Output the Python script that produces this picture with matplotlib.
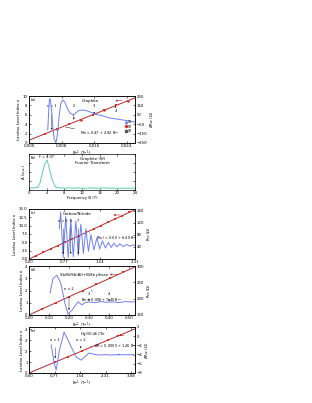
import matplotlib.pyplot as plt

# ---- data ----
# (a) Graphite
a_binv = [0.0046, 0.0048, 0.0050, 0.0052, 0.0055, 0.0058, 0.0062, 0.0066, 0.0070, 0.0074,
          0.0078, 0.0083, 0.0088, 0.0094, 0.0100, 0.0108, 0.0115, 0.0122, 0.0130, 0.0140,
          0.0150, 0.0162, 0.0180, 0.0198, 0.0215, 0.0235, 0.0260]
a_dr = [-110, 60, 215, 220, 120, -60, -210, -250, -150, 40,
        170, 207, 185, 120, 70, 48, 70, 95, 101, 95,
        80, 58, 40, 16, 5, -8, -27]
a_mark_x = [0.0040, 0.0069, 0.0098, 0.0127, 0.0156, 0.0185, 0.0214, 0.0243]
a_mark_n = [2, 3, 4, 5, 6, 7, 8, 9]
a_fit_x = [0.0, 0.026]
a_fit_n = [0.6, 9.6]

# (b) Fourier transform
b_freq = [0, 1, 2, 2.5, 3, 3.5, 4.07, 4.6, 5.2, 6, 7, 8, 9, 10, 11, 12, 13, 14, 15, 16,
          17, 18, 19, 20, 21, 22, 23, 24]
b_amp = [0.05, 0.06, 0.07, 0.2, 0.45, 0.7, 0.84, 0.6, 0.3, 0.08, 0.06, 0.05, 0.06, 0.05,
         0.06, 0.05, 0.05, 0.06, 0.05, 0.05, 0.06, 0.05, 0.05, 0.05, 0.05, 0.05, 0.05, 0.05]

# (c) Carbon/Nitride
c_binv = [0.66, 0.69, 0.745, 0.80, 0.855, 0.91, 0.965, 1.02, 1.075, 1.13, 1.185, 1.24,
          1.295, 1.35, 1.415, 1.48, 1.54, 1.60, 1.665, 1.73, 1.79, 1.85, 1.915, 1.98,
          2.055, 2.13, 2.20, 2.27, 2.31]
c_r = [100, 155, 5, 140, 5, 130, 8, 125, 12, 115, 18, 100,
       25, 80, 30, 70, 33, 60, 36, 55, 38, 52, 40, 50,
       41, 48, 42, 47, 44]
c_mark_n = [1, 2, 3, 4, 5, 6, 7, 8, 9, 10, 11, 12, 13, 14]
c_mark_x = [0.156, 0.313, 0.469, 0.625, 0.781, 0.938, 1.094, 1.25, 1.406, 1.563,
            1.719, 1.875, 2.031, 2.188]
c_fit_x = [0.0, 2.31]
c_fit_n = [0.0, 14.8]

# (d) Sb/Bi/Sb(Al) + BiSb
d_binv = [0.105, 0.12, 0.14, 0.16, 0.18, 0.195, 0.215, 0.245, 0.265, 0.28, 0.30,
          0.33, 0.36, 0.39, 0.42, 0.45, 0.48, 0.51, 0.53]
d_r = [217, 262, 272, 245, 185, 153, 165, 190, 181, 188, 190,
       188, 191, 189, 190, 188, 191, 190, 190]
d_mark_n = [0.5, 1, 1.5, 2, 2.5, 3, 3.5]
d_mark_x = [0.067, 0.134, 0.202, 0.270, 0.337, 0.405, 0.472]
d_fit_x = [0.0, 0.53]
d_fit_n = [0.006, 3.93]

# (e) HgCdTe
e_binv = [0.67, 0.75, 0.82, 0.92, 1.06, 1.22, 1.42, 1.57, 1.70, 1.81, 1.95, 2.08,
          2.3, 2.5, 2.7, 2.9, 3.16]
e_dr = [-1.9, -5.5, -7.35, -3.0, 0.9, -1.5, -4.5, -5.2, -4.4, -3.65, -3.9, -4.1,
        -4.0, -4.1, -4.0, -4.05, -4.0]
e_mark_n = [1, 1.5, 2, 3, 3.5]
e_mark_x = [0.79, 1.19, 1.59, 2.38, 2.78]
e_fit_x = [0.0, 3.2]
e_fit_n = [0.0005, 4.03]

BLUE = '#6f7ff5'
RED = '#b02a2a'
MRED = '#e03020'
GREEN = '#5ccfa5'
FS = 2.8

plt.rcParams['font.size'] = FS
plt.rcParams['axes.linewidth'] = 0.5
for k in ['xtick', 'ytick']:
    plt.rcParams[k + '.direction'] = 'in'
    plt.rcParams[k + '.major.size'] = 1.5
    plt.rcParams[k + '.major.width'] = 0.4
    plt.rcParams[k + '.major.pad'] = 1
    plt.rcParams[k + '.labelsize'] = FS

fig = plt.figure(figsize=(3.12, 4.03), dpi=100)

W, H = 312.0, 403.0


def rect(top, bottom):
    return [29 / W, 1 - bottom / H, 106 / W, (bottom - top) / H]


def fan(r, label, title, tx, ty, fx, fn, mx, mn, bx, by, xlim, nlim, rlim, xt, rt, rlab):
    ax = fig.add_axes(r)
    ax2 = ax.twinx()
    ax.plot(fx, fn, color=RED, lw=0.7, zorder=2)
    ax.plot(mx, mn, 's', color=MRED, ms=1.7, mew=0, zorder=3)
    ax2.plot(bx, by, color=BLUE, lw=0.7)
    ax.set_xlim(xlim)
    ax.set_ylim(nlim)
    ax2.set_ylim(rlim)
    ax.set_xticks(xt)
    ax2.set_yticks(rt)
    ax.tick_params(top=True)
    ax.set_xlabel('B$^{-1}$ (T$^{-1}$)', labelpad=0.3)
    ax.set_ylabel('Landau Level Index n', labelpad=1)
    ax2.set_ylabel(rlab, labelpad=1)
    ax.text(0.02, 0.95, label, transform=ax.transAxes, va='top')
    ax.text(tx, ty, title, transform=ax.transAxes, va='top', ha='center')
    return ax, ax2


# (a)
ax, ax2 = fan(rect(96, 143), '(a)', 'Graphite', 0.58, 0.94, a_fit_x, a_fit_n, a_mark_x,
              a_mark_n, a_binv, a_dr, (0, 0.026), (0, 10), (-250, 250),
              [0, 0.008, 0.016, 0.024], [-250, -150, -50, 50, 150, 250], 'ΔR$_{xx}$ (Ω)')
ax.xaxis.set_major_formatter(plt.FormatStrFormatter('%.3f'))
ax.plot(a_mark_x[1::2], a_mark_n[1::2], 'o', color=MRED, ms=1.8, mew=0, zorder=4)
ax2.plot([], [], '^', color=BLUE, ms=1.5, label='S1')
ax2.plot([], [], 'o', color=MRED, ms=1.5, label='S2')
ax2.plot([], [], 's', color='#555555', ms=1.5, label='S3')
ax2.legend(loc='center right', bbox_to_anchor=(1.0, 0.35), frameon=False, fontsize=2.3,
           handlelength=0.8, handletextpad=0.3, labelspacing=0.2)
for x0, y0, yt, s in [(0.0056, 2.2, 7.6, 'n = 1'), (0.0110, 4.4, 7.6, '2'),
                      (0.0160, 6.2, 7.6, '3'), (0.0212, 7.9, 6.6, '4')]:
    ax.annotate(s, xy=(x0, y0), xytext=(x0, yt), ha='center', fontsize=2.5,
                arrowprops=dict(arrowstyle='-|>', lw=0.3, color='k', mutation_scale=2))
ax.annotate('Mn = 0.47 + 4.92 B$^{-1}$', xy=(0.0083, 3.5), xytext=(0.0125, 1.6),
            fontsize=2.5, arrowprops=dict(arrowstyle='-', lw=0.3, color='k'))
ax.annotate('', xy=(0.0205, 9.0), xytext=(0.0235, 9.0),
            arrowprops=dict(arrowstyle='-|>', lw=0.4, color=RED, mutation_scale=2.5))

# (b)
axb = fig.add_axes(rect(154, 190))
axb.plot(b_freq, b_amp, color=GREEN, lw=0.7)
axb.set_xlim(0, 24)
axb.set_ylim(0, 1)
axb.set_xticks([0, 4, 8, 12, 16, 20, 24])
axb.set_yticks([0, 0.25, 0.5, 0.75, 1.0])
axb.set_yticklabels([])
axb.tick_params(top=True, right=True)
axb.set_xlabel('Frequency B (T)', labelpad=0.3)
axb.set_ylabel('A (a.u.)', labelpad=1)
axb.text(0.02, 0.95, '(b)', transform=axb.transAxes, va='top')
axb.text(4.07, 0.87, 'F = 4.07', ha='center', va='bottom', fontsize=2.5)
axb.text(0.6, 0.92, 'Graphite (Sf)\nFourier Transform', transform=axb.transAxes,
         va='top', ha='center', linespacing=1.1)

# (c)
ax, ax2 = fan(rect(209, 259), '(c)', 'Carbon/Nitride', 0.45, 0.94, c_fit_x, c_fit_n,
              c_mark_x, c_mark_n, c_binv, c_r, (0, 2.31), (0, 15), (0, 165),
              [0, 0.77, 1.54, 2.31], [40, 80, 120, 160], 'R$_{xx}$ (Ω)')
ax.xaxis.set_major_formatter(plt.FormatStrFormatter('%.2f'))
for x0, s in [(0.745, 'n = 5'), (0.91, '6'), (1.075, '7')]:
    ax2.annotate(s, xy=(x0, 8), xytext=(x0, 122), ha='center', fontsize=2.5,
                 arrowprops=dict(arrowstyle='-|>', lw=0.3, color='k', mutation_scale=2))
ax.annotate('R(n) = 0.00 + 6.40 B$^{-1}$', xy=(1.25, 8.0), xytext=(1.45, 5.6),
            fontsize=2.5, arrowprops=dict(arrowstyle='-', lw=0.3, color='k'))
ax.annotate('', xy=(1.78, 13.2), xytext=(2.05, 13.2),
            arrowprops=dict(arrowstyle='-|>', lw=0.4, color=RED, mutation_scale=2.5))

# (d)
ax, ax2 = fan(rect(266, 315), '(d)', 'Sb/Bi/Sb(Al)+BiSb phase', 0.52, 0.85, d_fit_x,
              d_fit_n, d_mark_x, d_mark_n, d_binv, d_r, (0, 0.53), (0, 4), (150, 300),
              [0, 0.1, 0.2, 0.3, 0.4, 0.5], [150, 200, 250, 300], 'R$_{xx}$ (Ω)')
ax.xaxis.set_major_formatter(plt.FormatStrFormatter('%.2f'))
for x0, yt, yb, s in [(0.20, 225, 157, 'n = 2'), (0.30, 212, 193, '3'), (0.40, 210, 192, '4')]:
    ax2.annotate(s, xy=(x0, yb), xytext=(x0, yt), ha='center', fontsize=2.5,
                 arrowprops=dict(arrowstyle='-|>', lw=0.3, color='k', mutation_scale=2))
ax.annotate('Bn = 0.006 + 7.40 B$^{-1}$', xy=(0.30, 2.2), xytext=(0.26, 1.1),
            fontsize=2.5, arrowprops=dict(arrowstyle='-', lw=0.3, color='k'))
ax.annotate('', xy=(0.39, 3.3), xytext=(0.46, 3.3),
            arrowprops=dict(arrowstyle='-|>', lw=0.4, color=RED, mutation_scale=2.5))

# (e)
ax, ax2 = fan(rect(327, 373), '(e)', 'Hg$_{0.8}$Cd$_{0.2}$Te', 0.6, 0.94, e_fit_x, e_fit_n,
              e_mark_x, e_mark_n, e_binv, e_dr, (0, 3.2), (0, 4.2), (-8, 2),
              [0, 0.77, 1.54, 2.31, 3.08], [-8, -6, -4, -2, 0, 2], 'ΔR$_{xx}$ (Ω)')
ax.xaxis.set_major_formatter(plt.FormatStrFormatter('%.2f'))
for x0, yb, s in [(0.79, 1.1, 'n = 1'), (1.56, 2.0, 'n = 2')]:
    ax.annotate(s, xy=(x0, yb), xytext=(x0, 2.9), ha='center', fontsize=2.5,
                arrowprops=dict(arrowstyle='-|>', lw=0.3, color='k', mutation_scale=2))
ax.annotate('ΔR = 0.0005 + 1.26 B$^{-1}$', xy=(1.85, 2.4), xytext=(1.95, 2.25),
            fontsize=2.5, arrowprops=dict(arrowstyle='-', lw=0.3, color='k'))
ax.annotate('', xy=(2.55, 3.4), xytext=(2.95, 3.4),
            arrowprops=dict(arrowstyle='-|>', lw=0.4, color=RED, mutation_scale=2.5))
ax2.annotate('', xy=(2.85, -4.0), xytext=(2.55, -4.0),
             arrowprops=dict(arrowstyle='-|>', lw=0.4, color=BLUE, mutation_scale=2.5))

fig.savefig('out.png', dpi=100)
